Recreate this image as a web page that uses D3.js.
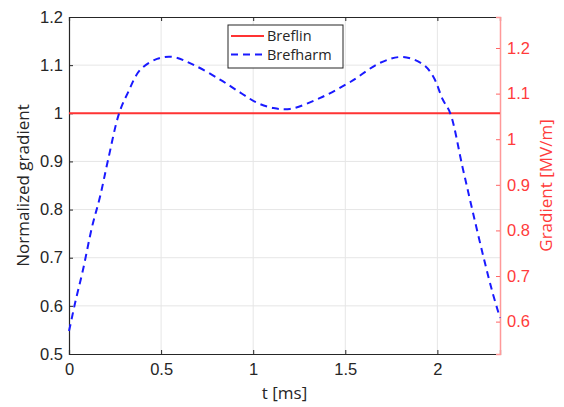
<!DOCTYPE html>
<html>
<head>
<meta charset="utf-8">
<script src="https://cdn.jsdelivr.net/npm/d3@7"></script>
<style>
  body { margin: 0; background: #fff; }
  svg { font-family: "Open Sans", "Noto Sans", sans-serif; }
</style>
</head>
<body>
<div id="chart"></div>
<script>
//Data
var tVals = [0, 0.005, 0.033, 0.076, 0.125, 0.168, 0.212, 0.272, 0.32, 0.386, 0.478, 0.565, 0.674, 0.82, 0.93, 1.02,
  1.11, 1.2, 1.364, 1.527, 1.69, 1.815, 1.924, 1.978, 2.03, 2.07, 2.136, 2.19, 2.25, 2.30, 2.34];
var harmVals = [0.548, 0.556, 0.606, 0.675, 0.764, 0.826, 0.903, 1.0, 1.043, 1.09, 1.113, 1.117, 1.101, 1.07, 1.043, 1.022,
  1.011, 1.009, 1.032, 1.065, 1.105, 1.117, 1.101, 1.076, 1.028, 1.0, 0.889, 0.799, 0.702, 0.627, 0.575];
var linVal = 1;
var xTicks = [0, 0.5, 1, 1.5, 2];
var yTicks = [0.5, 0.6, 0.7, 0.8, 0.9, 1, 1.1, 1.2];
var rightTicks = [0.6, 0.7, 0.8, 0.9, 1, 1.1, 1.2];
var seriesNames = ["Breflin", "Brefharm"];

//Size and margins (window.top is taken, so prefix them)
var width = 564, height = 407;
var pLeft = 69, pRight = 500, pTop = 17, pBottom = 354;

var svg = d3.select("#chart").append("svg")
  .attr("width", width)
  .attr("height", height);

var x = d3.scaleLinear().domain([0, 2.34]).range([pLeft, pRight]);
var y = d3.scaleLinear().domain([0.5, 1.2]).range([pBottom, pTop]);
//right axis is the gradient in MV/m
var yR = d3.scaleLinear().domain([0.529, 1.268]).range([pBottom, pTop]);

//grid
svg.append("g").selectAll("line").data(xTicks.slice(1)).join("line")
  .attr("x1", d => x(d)).attr("x2", d => x(d))
  .attr("y1", pTop).attr("y2", pBottom)
  .attr("stroke", "#e6e6e6");
svg.append("g").selectAll("line").data(yTicks.slice(1, -1)).join("line")
  .attr("x1", pLeft).attr("x2", pRight)
  .attr("y1", d => y(d)).attr("y2", d => y(d))
  .attr("stroke", "#e6e6e6");

//axes
var axColor = "#262626";
var tickFont = "16.5px";
var xAxis = svg.append("g").attr("transform", "translate(0," + pBottom + ")")
  .call(d3.axisBottom(x).tickValues(xTicks).tickSize(-4).tickPadding(9).tickFormat(d3.format("")));
var xTop = svg.append("g").attr("transform", "translate(0," + pTop + ")")
  .call(d3.axisTop(x).tickValues(xTicks).tickSize(-4).tickFormat(""));
var yAxis = svg.append("g").attr("transform", "translate(" + pLeft + ",0)")
  .call(d3.axisLeft(y).tickValues(yTicks).tickSize(-4).tickPadding(6).tickFormat(d3.format("")));
var yRAxis = svg.append("g").attr("transform", "translate(" + pRight + ",0)")
  .call(d3.axisRight(yR).tickValues(rightTicks).tickSize(-4).tickPadding(7).tickFormat(d3.format("")));

[xAxis, xTop, yAxis].forEach(function(g) {
  g.select(".domain").attr("stroke", axColor).attr("stroke-width", 1.2);
  g.selectAll(".tick line").attr("stroke", axColor);
  g.selectAll("text").attr("fill", axColor).style("font-size", tickFont);
});
yRAxis.select(".domain").attr("stroke", "#ff9999").attr("stroke-width", 1.5);
yRAxis.selectAll(".tick line").attr("stroke", "#ff6666");
yRAxis.selectAll("text").attr("fill", "#ff3b3b").style("font-size", tickFont);

//lines
var line = d3.line().x((d, i) => x(tVals[i])).y(d => y(d)).curve(d3.curveCatmullRom);
svg.append("line")
  .attr("x1", pLeft).attr("x2", pRight)
  .attr("y1", y(linVal)).attr("y2", y(linVal))
  .attr("stroke", "#ff3333").attr("stroke-width", 2);
svg.append("path").datum(harmVals)
  .attr("d", line)
  .attr("fill", "none")
  .attr("stroke", "#1a1aff")
  .attr("stroke-width", 2)
  .attr("stroke-dasharray", "7,5");

//axis labels
svg.append("text")
  .attr("x", x(1.17)).attr("y", 399)
  .attr("text-anchor", "middle")
  .attr("fill", axColor).style("font-size", "17px")
  .text("t [ms]");
svg.append("text")
  .attr("transform", "translate(29," + (pTop + pBottom) / 2 + ")rotate(-90)")
  .attr("text-anchor", "middle")
  .attr("fill", axColor).style("font-size", "17px")
  .text("Normalized gradient");
svg.append("text")
  .attr("transform", "translate(552," + (pTop + pBottom) / 2 + ")rotate(-90)")
  .attr("text-anchor", "middle")
  .attr("fill", "#ff3b3b").style("font-size", "17px")
  .text("Gradient [MV/m]");

//legend
var legend = svg.append("g").attr("transform", "translate(228,25)");
legend.append("rect")
  .attr("width", 115).attr("height", 43)
  .attr("fill", "#fff").attr("stroke", "#262626").attr("stroke-width", 1);
var styles = [
  {color: "#ff3333", dash: null},
  {color: "#1a1aff", dash: "7,5"}
];
seriesNames.forEach(function(name, i) {
  var ly = 11 + i * 18.5;
  legend.append("line")
    .attr("x1", 3).attr("x2", 36).attr("y1", ly).attr("y2", ly)
    .attr("stroke", styles[i].color).attr("stroke-width", 2)
    .attr("stroke-dasharray", styles[i].dash);
  legend.append("text")
    .attr("x", 39).attr("y", ly + 5)
    .attr("fill", axColor).style("font-size", "14.5px")
    .text(name);
});
</script>
</body>
</html>
